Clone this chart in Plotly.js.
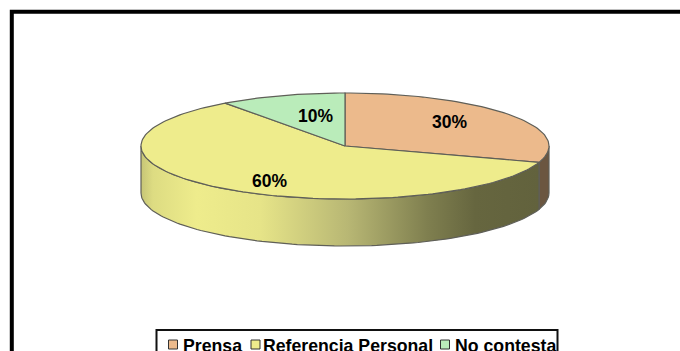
<!DOCTYPE html>
<html>
<head>
<meta charset="utf-8">
<script src="https://cdn.plot.ly/plotly-3.0.1.min.js"></script>
<style>html,body{margin:0;padding:0;background:#fff;overflow:hidden}#chart{width:680px;height:351px}</style>
</head>
<body>
<div id="chart"></div>
<script>
// Survey answers, in the order they run clockwise from twelve o'clock
const categories = ["Prensa", "Referencia Personal", "No contesta"];
const percentages = [30, 60, 10];
const sliceColors = ["#ecba8c", "#eeec8c", "#baecba"];

// Disc geometry, in pixels of the 680x351 figure
const W = 680, H = 351;
const cx = 345, cy = 146, rx = 204, ry = 53, depth = 47;
const edge = "#5f5f58";
const font = "'Liberation Sans', Arial, sans-serif";

// Where each percentage sits on the disc
const labelSpots = [[449, 122], [269, 181], [315, 116]];

// Legend row
const legendBox = {x0: 156.5, x1: 557.5, y0: 330};
const swatchX = [173, 255.5, 445];
const legendTextX = [183, 263, 455];

// Angles are clockwise from the top of the ellipse, in degrees
function rim(a0, a1, dy) {
  const xs = [], ys = [];
  const steps = Math.max(2, Math.ceil(Math.abs(a1 - a0) / 1.5));
  for (let i = 0; i <= steps; i++) {
    const t = (a0 + (a1 - a0) * i / steps) * Math.PI / 180;
    xs.push(cx + rx * Math.sin(t));
    ys.push(cy - ry * Math.cos(t) + dy);
  }
  return {xs, ys};
}

function wall(a0, a1) {
  const top = rim(a0, a1, 0), bottom = rim(a1, a0, depth);
  return {x: top.xs.concat(bottom.xs, top.xs[0]), y: top.ys.concat(bottom.ys, top.ys[0])};
}

function polyTrace(pts, extra) {
  return Object.assign({
    type: "scatter", mode: "lines", x: pts.x, y: pts.y, fill: "toself",
    line: {color: edge, width: 1.2}, hoverinfo: "skip", showlegend: false
  }, extra);
}

const total = percentages.reduce((a, b) => a + b, 0);
const traces = [];
const spans = [];
let running = 0;
percentages.forEach(v => {
  const a0 = running / total * 360;
  running += v;
  spans.push([a0, running / total * 360]);
});

// Visible outer wall: only the part of each slice on the front half (90 to 270 degrees)
traces.push(polyTrace(wall(90, spans[0][1]), {fillcolor: "#6b5640"}));
traces.push(polyTrace(wall(spans[1][0], 270), {
  fillcolor: "#eeec8c",
  fillgradient: {
    type: "horizontal",
    colorscale: [
      [0, "#c6c576"], [0.03, "#dddc82"], [0.14, "#eeec8c"], [0.3, "#e6e488"],
      [0.52, "#b8b774"], [0.72, "#7f7f4f"], [0.84, "#66663f"], [1, "#62623d"]
    ]
  }
}));

// Top face of the disc, one sector per category
percentages.forEach((v, i) => {
  const arc = rim(spans[i][0], spans[i][1], 0);
  traces.push(polyTrace(
    {x: [cx].concat(arc.xs, cx), y: [cy].concat(arc.ys, cy)},
    {fillcolor: sliceColors[i]}
  ));
});

// Legend swatches
traces.push({
  type: "scatter", mode: "markers", x: swatchX, y: swatchX.map(() => 344.5),
  marker: {symbol: "square", size: 9, color: sliceColors, line: {color: "#333", width: 1}},
  hoverinfo: "skip", showlegend: false
});

const annotations = percentages.map((v, i) => ({
  x: labelSpots[i][0], y: labelSpots[i][1], xref: "x", yref: "y",
  text: "<b>" + v + "%</b>", showarrow: false,
  font: {family: font, size: 17.5, color: "#000"}
})).concat(categories.map((c, i) => ({
  x: legendTextX[i], y: 346, xref: "x", yref: "y", xanchor: "left", yanchor: "middle",
  xshift: -2, text: "<b>" + c + "</b>", showarrow: false,
  font: {family: font, size: 17.7, color: "#000"}
})));

const shapes = [
  // Outer chart frame, running off the right and bottom of the figure
  {type: "rect", xref: "x", yref: "y", x0: 11.8, x1: W + 20, y0: 11.8, y1: H + 20,
   line: {color: "#000", width: 4}, layer: "above"},
  {type: "rect", xref: "x", yref: "y", x0: legendBox.x0, x1: legendBox.x1, y0: legendBox.y0, y1: H + 20,
   line: {color: "#111", width: 2}, layer: "below"}
];

Plotly.newPlot("chart", traces, {
  width: W, height: H,
  margin: {l: 0, r: 0, t: 0, b: 0},
  paper_bgcolor: "#fff", plot_bgcolor: "#fff",
  xaxis: {range: [0, W], visible: false, fixedrange: true},
  yaxis: {range: [H, 0], visible: false, fixedrange: true},
  showlegend: false, shapes, annotations
}, {displayModeBar: false, staticPlot: true});
</script>
</body>
</html>
